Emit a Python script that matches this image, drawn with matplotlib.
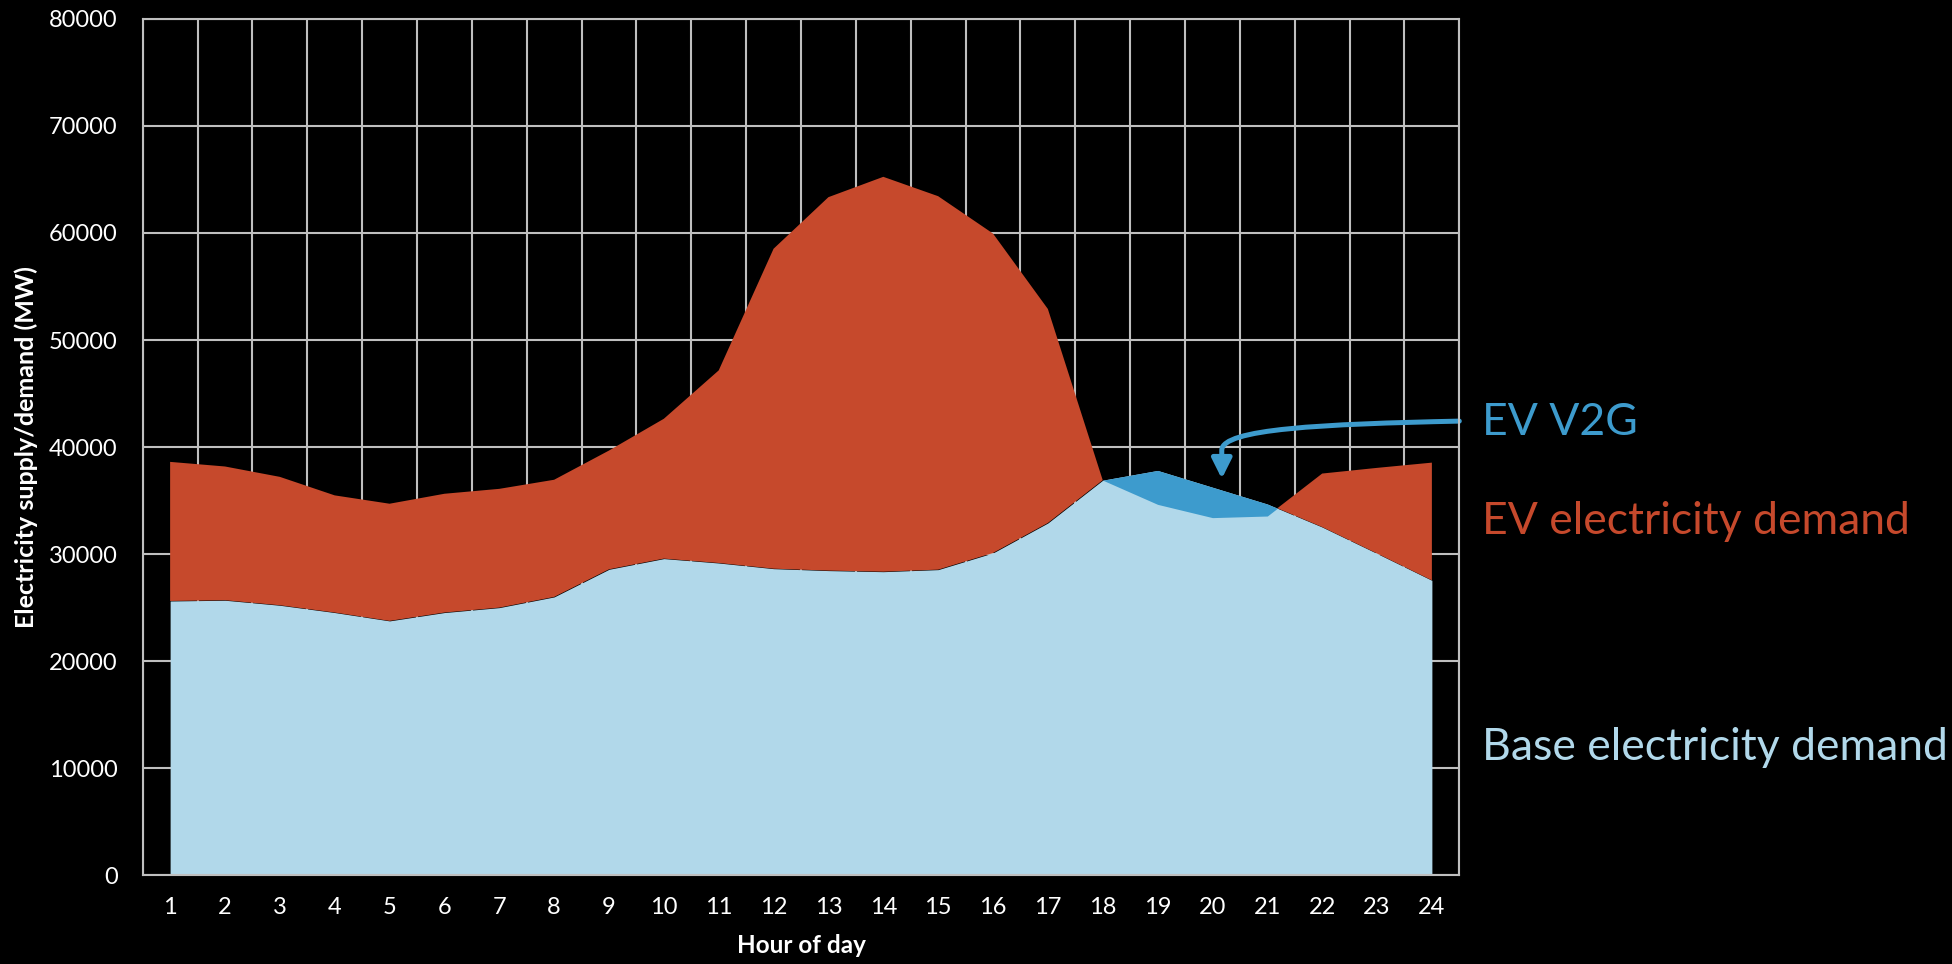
import matplotlib
matplotlib.use("Agg")
import matplotlib.pyplot as plt
import numpy as np
from matplotlib.path import Path
from matplotlib.patches import FancyArrowPatch

plt.rcParams['font.family'] = ['Lato', 'DejaVu Sans']

# data (MW)
hours = np.arange(1, 25)
base_demand = np.array([25610, 25680, 25210, 24530, 23750, 24530, 24990, 25990,
                        28570, 29570, 29160, 28630, 28450, 28350, 28540, 30100,
                        32900, 36900, 37810, 36240, 34670, 32520, 30050, 27540])
ev_demand = np.array([13000, 12500, 12000, 10950, 10950, 11100, 11100, 10950,
                      11100, 13070, 18000, 29900, 34900, 36900, 34900, 29850,
                      20000, 0, 0, 0, 0, 5000, 8000, 11000])
ev_v2g = np.array([0, 0, 0, 0, 0, 0, 0, 0, 0, 0, 0, 0,
                   0, 0, 0, 0, 0, 0, 3170, 2840, 1120, 0, 0, 0])

labels = ["EV V2G", "EV electricity demand", "Base electricity demand"]
c_base = "#B1D8EA"
c_ev = "#C6492C"
c_v2g = "#3D9BCD"
grid_c = "#BFBFBF"

net = base_demand + ev_demand - ev_v2g

fig = plt.figure(figsize=(19.52, 9.64), dpi=100, facecolor="black")
ax = fig.add_axes([0.0731, 0.0923, 0.6745, 0.888])
ax.set_facecolor("black")

ax.fill_between(hours, 0, base_demand, color=c_base, lw=0)
ax.fill_between(hours, base_demand, net, where=net >= base_demand,
                interpolate=True, color=c_ev, lw=0)
ax.fill_between(hours, net, base_demand, where=net <= base_demand,
                interpolate=True, color=c_v2g, lw=0)

ax.set_xlim(0.5, 24.5)
ax.set_ylim(0, 80000)
ax.set_xticks(hours)
ax.set_xticks(np.arange(0.5, 25, 1), minor=True)
ax.set_yticks(np.arange(0, 80001, 10000))
ax.set_axisbelow(True)
ax.grid(True, which="minor", axis="x", color=grid_c, lw=1.5)
ax.grid(True, which="major", axis="y", color=grid_c, lw=1.5)
ax.tick_params(which="both", length=0, colors="white", labelsize=17)
ax.tick_params(axis="y", pad=18)
ax.tick_params(axis="x", pad=16)
for s in ax.spines.values():
    s.set_color(grid_c)
    s.set_linewidth(1.5)

ax.set_xlabel("Hour of day", color="white", fontsize=17.5, fontweight="bold", labelpad=11)
ax.set_ylabel("Electricity supply/demand (MW)", color="white", fontsize=18,
              fontweight="bold")
ax.yaxis.set_label_coords(-0.0795, 0.5)

# curved arrow pointing at the V2G area
verts = [(24.5, 42420), (22.0, 42150), (20.17, 41700), (20.17, 39700), (20.17, 37040)]
codes = [Path.MOVETO, Path.CURVE4, Path.CURVE4, Path.CURVE4, Path.LINETO]
arrow = FancyArrowPatch(path=Path(verts, codes), arrowstyle="-|>,head_length=1.2,head_width=0.6",
                        mutation_scale=10, color=c_v2g, lw=3.6, transform=ax.transData,
                        clip_on=False)
ax.add_patch(arrow)

fig.text(0.759, 0.5488, labels[0], color=c_v2g, fontsize=32)
fig.text(0.759, 0.4461, labels[1], color=c_ev, fontsize=32)
fig.text(0.759, 0.2116, labels[2], color=c_base, fontsize=32)

fig.savefig("out.png", dpi=100, facecolor="black")
